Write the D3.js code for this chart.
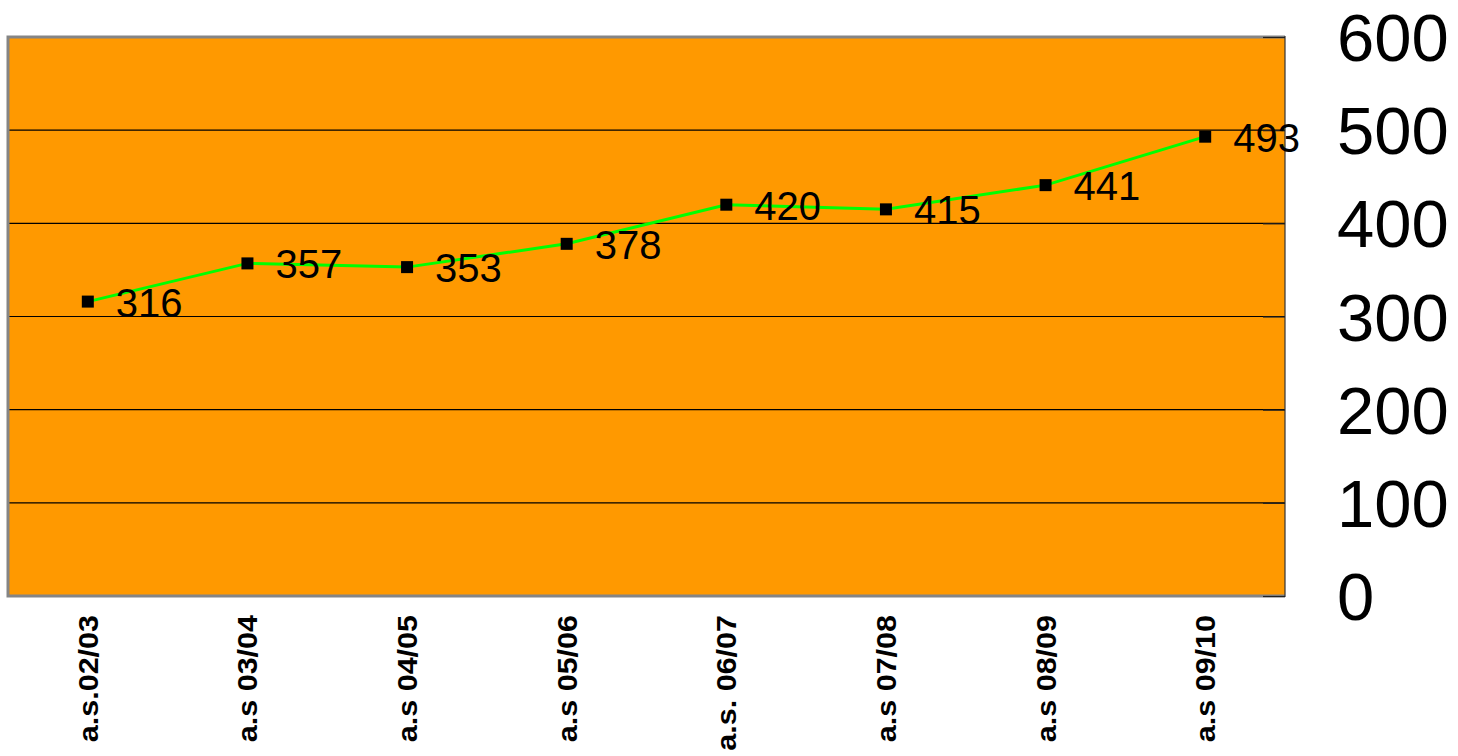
<!DOCTYPE html>
<html>
<head>
<meta charset="utf-8">
<script src="https://cdn.jsdelivr.net/npm/d3@7"></script>
<style>
    body { margin: 0; background: #ffffff; }
    svg { display: block; font-family: "Liberation Sans", Arial, sans-serif; }
</style>
</head>
<body>
<div id="chart"></div>
<script>
// school years and values
const years = ["a.s.02/03", "a.s 03/04", "a.s 04/05", "a.s 05/06", "a.s. 06/07", "a.s 07/08", "a.s 08/09", "a.s 09/10"];
const values = [316, 357, 353, 378, 420, 415, 441, 493];
const yTicks = [0, 100, 200, 300, 400, 500, 600];

const width = 1458;
const height = 756;
const plot = {left: 8, top: 37, right: 1285, bottom: 596};

const svg = d3.select("#chart")
    .append("svg")
    .attr("width", width)
    .attr("height", height);

const x = d3.scaleBand()
    .domain(years)
    .range([plot.left, plot.right]);

const y = d3.scaleLinear()
    .domain([0, 600])
    .range([plot.bottom, plot.top]);

// plot background
svg.append("rect")
    .attr("x", plot.left)
    .attr("y", plot.top)
    .attr("width", plot.right - plot.left)
    .attr("height", plot.bottom - plot.top)
    .style("fill", "#ff9900");

// gridlines
svg.append("g")
    .selectAll("line")
    .data(yTicks.filter(d => d > 0 && d < 600))
    .enter().append("line")
    .attr("x1", plot.left)
    .attr("x2", plot.right)
    .attr("y1", d => y(d))
    .attr("y2", d => y(d))
    .style("stroke", "#000000")
    .style("stroke-width", 1.2);

// border: gray on left/top/bottom, dark on right
svg.append("path")
    .attr("d", `M${plot.right},${plot.top}H${plot.left}V${plot.bottom}H${plot.right}`)
    .style("fill", "none")
    .style("stroke", "#858585")
    .style("stroke-width", 3);
svg.append("line")
    .attr("x1", plot.right).attr("x2", plot.right)
    .attr("y1", plot.top - 1).attr("y2", plot.bottom + 1)
    .style("stroke", "#333333")
    .style("stroke-width", 1.2);

// right axis with inner ticks and big labels
const yAxis = svg.append("g")
    .attr("transform", `translate(${plot.right},0)`)
    .call(d3.axisLeft(y).tickValues(yTicks).tickSize(22).tickFormat(""));
yAxis.select(".domain").remove();
yAxis.selectAll("line").style("stroke", "#222222").style("stroke-width", 1.2);

svg.append("g")
    .selectAll("text")
    .data(yTicks)
    .enter().append("text")
    .attr("x", 1337)
    .attr("y", d => y(d))
    .attr("dy", "0.36em")
    .style("font-size", "67px")
    .style("fill", "#000000")
    .text(d => d);

// category labels, rotated
svg.append("g")
    .selectAll("text")
    .data(years)
    .enter().append("text")
    .attr("transform", d => `translate(${x(d) + x.bandwidth() / 2 + 10},615) rotate(-90) scale(1.13,1)`)
    .attr("text-anchor", "end")
    .style("font-size", "27px")
    .style("font-weight", "bold")
    .style("fill", "#000000")
    .text(d => d);

// line
const line = d3.line()
    .x((d, i) => x(years[i]) + x.bandwidth() / 2)
    .y(d => y(d));

svg.append("path")
    .datum(values)
    .attr("d", line)
    .style("fill", "none")
    .style("stroke", "#00ff00")
    .style("stroke-width", 3);

// markers
svg.append("g")
    .selectAll("rect")
    .data(values)
    .enter().append("rect")
    .attr("x", (d, i) => x(years[i]) + x.bandwidth() / 2 - 6)
    .attr("y", d => y(d) - 6)
    .attr("width", 12)
    .attr("height", 12)
    .style("fill", "#000000");

// value labels
svg.append("g")
    .selectAll("text")
    .data(values)
    .enter().append("text")
    .attr("x", (d, i) => x(years[i]) + x.bandwidth() / 2 + 28)
    .attr("y", d => y(d) + 15)
    .style("font-size", "40px")
    .style("fill", "#000000")
    .text(d => d);
</script>
</body>
</html>
